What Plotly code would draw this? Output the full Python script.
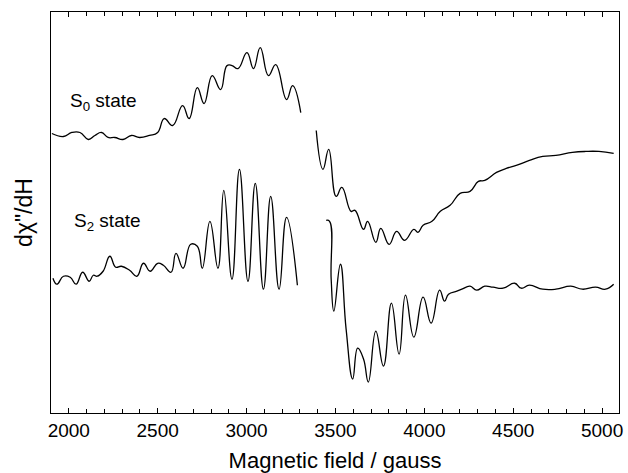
import plotly.graph_objects as go

# S0 state spectrum (field in gauss, amplitude in arbitrary units); None marks the gap
s0_field = [1905, 1970, 2017, 2063, 2110, 2147, 2184, 2221, 2259, 2305, 2352, 2398, 2454, 2500,
            2537, 2584, 2640, 2677, 2723, 2761, 2807, 2854, 2890, 2918, 2952, 3002, 3039, 3077,
            3123, 3164, 3225, 3259, 3305,
            None,
            3392, 3430, 3462, 3504, 3536, 3588, 3610, 3658, 3681, 3727, 3755, 3802, 3844, 3889,
            3941, 3964, 3993, 4043, 4090, 4145, 4201, 4257, 4304, 4340, 4406, 4461, 4517, 4591,
            4666, 4740, 4833, 4908, 4982, 5065]
s0_signal = [280, 277, 281, 281, 274, 278, 281, 276, 276, 274, 278, 276, 278, 281,
             295, 288, 308, 295, 326, 310, 338, 324, 348, 348, 345, 361, 345, 366,
             338, 349, 314, 328, 301,
             None,
             283, 244, 264, 217, 226, 202, 203, 184, 192, 171, 185, 169, 182, 173,
             184, 181, 188, 192, 202, 208, 220, 222, 232, 233, 241, 245, 248, 253,
             257, 258, 261, 262, 262, 260]

# S2 state spectrum
s2_field = [1911, 1933, 1970, 2008, 2041, 2078, 2115, 2138, 2160, 2193, 2231, 2264, 2296, 2342,
            2383, 2420, 2458, 2500, 2532, 2575, 2603, 2643, 2686, 2723, 2751, 2794, 2839, 2872,
            2918, 2960, 3008, 3049, 3095, 3136, 3183, 3225, 3286,
            None,
            3448, 3467, 3476, 3491, 3528, 3560, 3597, 3625, 3658, 3685, 3727, 3770, 3815, 3858,
            3894, 3941, 3993, 4038, 4086, 4114, 4136, 4183, 4211, 4257, 4294, 4340, 4387, 4443,
            4508, 4545, 4591, 4666, 4740, 4824, 4889, 4963, 5019, 5065]
s2_signal = [135, 129, 137, 136, 129, 141, 132, 138, 137, 142, 157, 146, 147, 143,
             137, 150, 142, 150, 148, 141, 160, 145, 169, 167, 145, 192, 145, 223,
             134, 244, 132, 230, 124, 217, 124, 196, 128,
             None,
             193, 192, 134, 102, 149, 84, 34, 65, 54, 31, 82, 47, 110, 59,
             118, 76, 116, 90, 123, 112, 119, 122, 124, 127, 123, 127, 126, 125,
             130, 125, 128, 124, 124, 127, 124, 126, 124, 129]

x_range = [1900, 5095]
y_range = [0, 401.7]
x_ticks = [2000, 2500, 3000, 3500, 4000, 4500, 5000]

fig = go.Figure()
for fx, sy in [(s0_field, s0_signal), (s2_field, s2_signal)]:
    fig.add_trace(go.Scatter(x=fx, y=sy, mode="lines", connectgaps=False,
                             line=dict(color="black", width=1.3, shape="spline", smoothing=1.3),
                             showlegend=False, hoverinfo="skip"))

font_family = "Liberation Sans, Arial, Helvetica, sans-serif"
fig.add_annotation(x=1995, y=312, xref="x", yref="y", text="S<sub>0</sub> state",
                   showarrow=False, xanchor="left", yanchor="middle",
                   font=dict(size=19, color="black", family=font_family))
fig.add_annotation(x=2017, y=191, xref="x", yref="y", text="S<sub>2</sub> state",
                   showarrow=False, xanchor="left", yanchor="middle",
                   font=dict(size=19, color="black", family=font_family))

fig.update_layout(
    width=628, height=473,
    margin=dict(l=51, r=5, t=12, b=59),
    paper_bgcolor="white", plot_bgcolor="white",
    font=dict(family=font_family, color="black"),
    xaxis=dict(range=x_range, tickvals=x_ticks, ticktext=[str(v) for v in x_ticks],
               ticks="inside", ticklen=5, tickwidth=1.2, tickcolor="black",
               minor=dict(dtick=100, tick0=0, ticks="inside", ticklen=3.5, tickwidth=1, tickcolor="black"),
               showline=True, linecolor="black", linewidth=1.3, mirror="ticks",
               showgrid=False, zeroline=False, tickfont=dict(size=19),
               title=dict(text="Magnetic field / gauss", font=dict(size=22), standoff=12)),
    yaxis=dict(range=y_range, showticklabels=False, ticks="",
               showline=True, linecolor="black", linewidth=1.3, mirror=True,
               showgrid=False, zeroline=False,
               title=dict(text="dχ\"/dH", font=dict(size=23), standoff=10)),
)

fig.write_html("out.html", config={"displayModeBar": False},
               post_script="document.body.style.margin='0';document.body.style.padding='0';")
